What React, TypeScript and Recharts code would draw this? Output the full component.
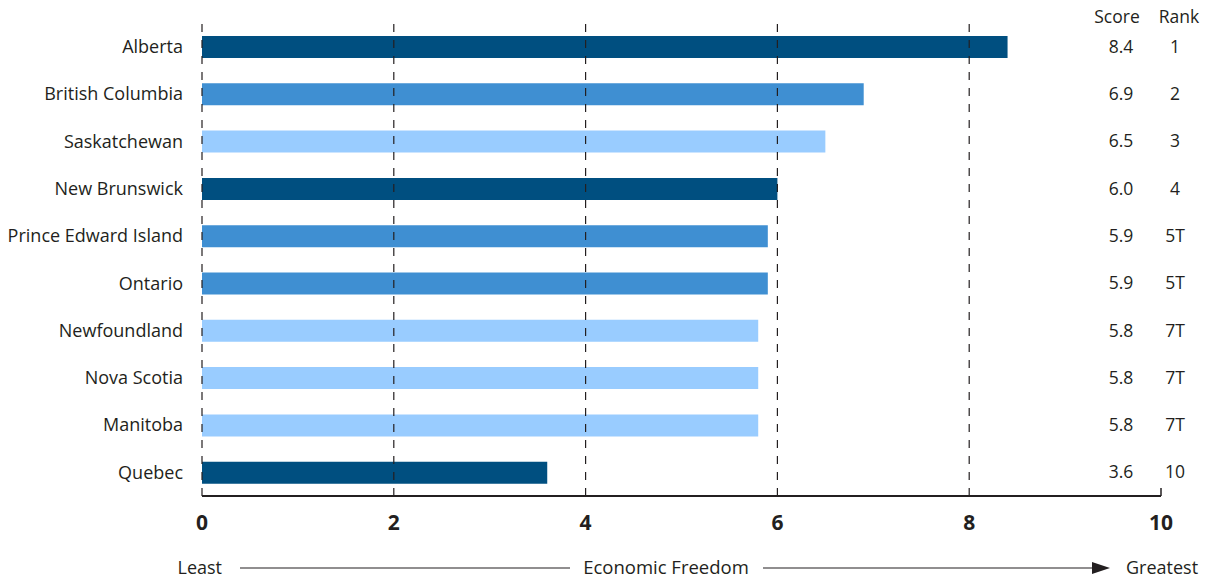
import React from "react";
import { BarChart, Bar, XAxis, YAxis, ReferenceLine, Cell, Label } from "recharts";

const PROVINCES = [
  "Alberta",
  "British Columbia",
  "Saskatchewan",
  "New Brunswick",
  "Prince Edward Island",
  "Ontario",
  "Newfoundland",
  "Nova Scotia",
  "Manitoba",
  "Quebec",
];
const SCORES = [8.4, 6.9, 6.5, 6.0, 5.9, 5.9, 5.8, 5.8, 5.8, 3.6];
const RANKS = ["1", "2", "3", "4", "5T", "5T", "7T", "7T", "7T", "10"];
const X_TICKS = [0, 2, 4, 6, 8, 10];
const GRID_VALUES = [0, 2, 4, 6, 8];

const DARK = "#004f80";
const MID = "#3f8fd2";
const LIGHT = "#99ccff";
const BAR_COLORS = [DARK, MID, LIGHT, DARK, MID, MID, LIGHT, LIGHT, LIGHT, DARK];

const INK = "#231f20";
const FONT = "'Open Sans', sans-serif";

const data = PROVINCES.map((name, i) => ({ name, score: SCORES[i], rank: RANKS[i] }));

// score + rank columns, drawn off the right-hand axis
const ScoreRankTick = (props: any) => {
  const { x, y, payload } = props;
  const i = PROVINCES.indexOf(payload.value);
  if (i < 0) return null;
  return (
    <g>
      <text x={x - 40} y={y} dy="0.35em" textAnchor="middle" fill={INK} fontSize={17.5} fontFamily={FONT}>
        {SCORES[i].toFixed(1)}
      </text>
      <text x={x + 14} y={y} dy="0.35em" textAnchor="middle" fill={INK} fontSize={17.5} fontFamily={FONT}>
        {RANKS[i]}
      </text>
    </g>
  );
};

const XTick = (props: any) => {
  const { x, y, payload } = props;
  const axisY = y - 17;
  return (
    <g>
      {payload.value === 10 && <line x1={x} x2={x} y1={axisY - 8} y2={axisY} stroke={INK} strokeWidth={1.5} />}
      <text x={x} y={y} dy="0.8em" textAnchor="middle" fill={INK} fontSize={21} fontWeight="bold" fontFamily={FONT}>
        {payload.value}
      </text>
    </g>
  );
};

const FreedomArrow = (props: any) => {
  const { viewBox } = props;
  const x0 = viewBox.x;
  const y = viewBox.y + 72;
  return (
    <g fontFamily={FONT} fontSize={18} fill={INK}>
      <text x={x0 + 20} y={y} dy="0.35em" textAnchor="end">Least</text>
      <line x1={x0 + 38} x2={x0 + 368} y1={y} y2={y} stroke={INK} strokeWidth={1.2} />
      <text x={x0 + 464} y={y} dy="0.35em" textAnchor="middle" fontSize={18.5}>Economic Freedom</text>
      <line x1={x0 + 561} x2={x0 + 895} y1={y} y2={y} stroke={INK} strokeWidth={1.2} />
      <path d={`M${x0 + 890},${y - 6} L${x0 + 908},${y} L${x0 + 890},${y + 6} Z`} fill={INK} />
      <text x={x0 + 924} y={y} dy="0.35em" textAnchor="start">Greatest</text>
    </g>
  );
};

const Headers = (props: any) => {
  const { viewBox } = props;
  const x = viewBox.x;
  const y = viewBox.y;
  return (
    <g fontFamily={FONT} fontSize={17.5} fill={INK}>
      <text x={x - 44} y={y} textAnchor="middle">Score</text>
      <text x={x + 18} y={y} textAnchor="middle">Rank</text>
    </g>
  );
};

export default function App() {
  return (
    <div style={{ position: "absolute", left: 0, top: 0, width: 1217, height: 581, background: "#fff" }}>
      <BarChart
        width={1217}
        height={581}
        data={data}
        layout="vertical"
        margin={{ top: 23, right: 0, bottom: 0, left: 0 }}
      >
        <XAxis
          type="number"
          domain={[0, 10]}
          ticks={X_TICKS}
          height={85}
          axisLine={{ stroke: INK, strokeWidth: 2 }}
          tickLine={false}
          tickSize={0}
          tickMargin={17}
          tick={<XTick />}
        >
          <Label content={<FreedomArrow />} />
        </XAxis>
        <YAxis
          yAxisId="left"
          type="category"
          dataKey="name"
          width={202}
          axisLine={false}
          tickLine={false}
          tickSize={0}
          tickMargin={19}
          tick={{ fill: INK, fontSize: 18, fontFamily: FONT }}
        />
        <YAxis
          yAxisId="right"
          orientation="right"
          type="category"
          dataKey="name"
          width={56}
          axisLine={false}
          tickLine={false}
          tickSize={0}
          tickMargin={0}
          tick={<ScoreRankTick />}
        >
          <Label content={<Headers />} />
        </YAxis>
        {GRID_VALUES.map((v) => (
          <ReferenceLine key={v} x={v} yAxisId="left" stroke={INK} strokeWidth={1.2} strokeDasharray="8 8" />
        ))}
        <Bar dataKey="score" yAxisId="left" barSize={22} isAnimationActive={false}>
          {data.map((d, i) => (
            <Cell key={d.name} fill={BAR_COLORS[i]} />
          ))}
        </Bar>
      </BarChart>
    </div>
  );
}
